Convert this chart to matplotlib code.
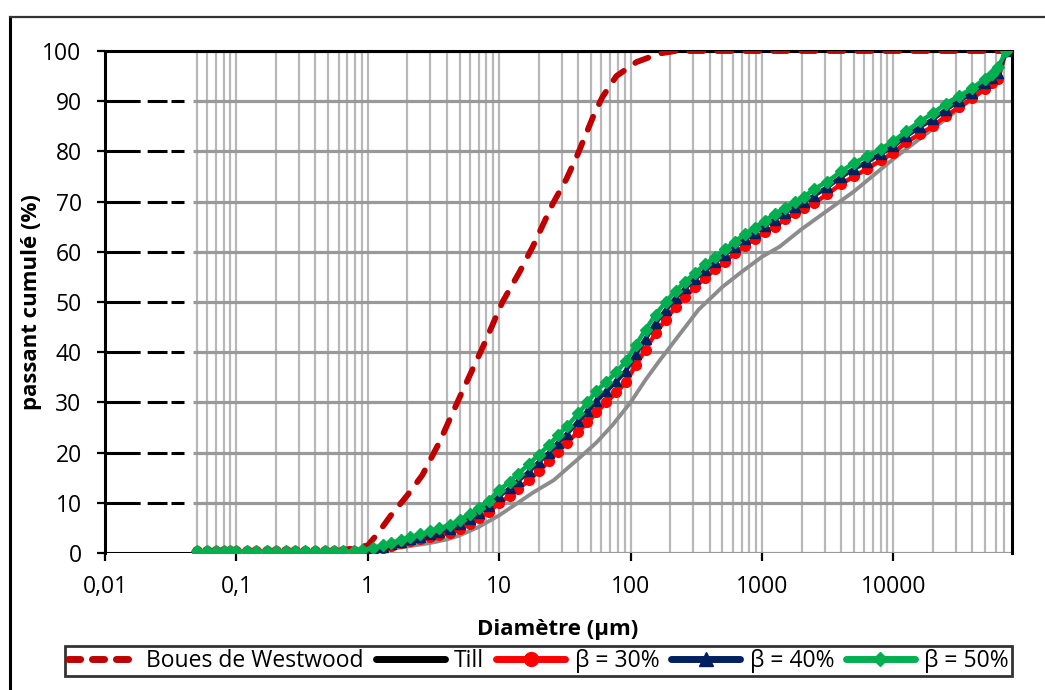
import matplotlib.pyplot as plt
from matplotlib.lines import Line2D
from matplotlib.ticker import FixedLocator, NullLocator

plt.rcParams['font.family'] = ['Open Sans', 'DejaVu Sans']

# diameters (µm) of the three mixtures
diam = [0.05, 0.06, 0.07, 0.08, 0.09, 0.1, 0.12, 0.14, 0.17, 0.2, 0.24, 0.28, 0.33,
        0.4, 0.47, 0.55, 0.65, 0.78, 0.9, 1.1, 1.3, 1.5, 1.8, 2.1, 2.5, 3.0, 3.5, 4.2,
        5.0, 6.0, 7.0, 8.3, 10, 12, 14, 17, 20, 24, 28, 33, 40, 47, 55, 65, 78, 92,
        110, 130, 155, 185, 220, 260, 310, 370, 440, 520, 620, 740, 880, 1050, 1250,
        1500, 1800, 2100, 2500, 3150, 4000, 5000, 6300, 8000, 10000, 12500, 16000,
        20000, 25000, 31500, 40000, 50000, 56000, 63000, 72000]

beta30 = [0.3, 0.3, 0.3, 0.3, 0.3, 0.3, 0.3, 0.3, 0.3, 0.3, 0.3, 0.3, 0.3,
          0.3, 0.3, 0.3, 0.3, 0.3, 0.4, 0.7, 1.0, 1.4, 1.9, 2.3, 2.7, 3.1, 3.5, 4.0,
          4.8, 5.8, 6.9, 8.2, 9.9, 11.4, 12.8, 14.6, 16.3, 18.3, 20.2, 22.0, 24.2, 26.0, 28.0, 30.0, 32.0, 34.0,
          37.5, 40.5, 43.8, 46.5, 49.0, 51.0, 53.0, 54.8, 56.5, 58.0, 59.7, 61.2, 62.6, 64.0, 65.0,
          66.5, 67.8, 68.8, 69.7, 71.5, 73.5, 75.0, 76.5, 78.2, 79.7, 81.8, 83.5,
          85.0, 87.0, 88.8, 90.6, 92.5, 93.6, 94.5, 100]

beta40 = [0.1, 0.1, 0.1, 0.1, 0.1, 0.1, 0.1, 0.1, 0.1, 0.1, 0.1, 0.1, 0.1,
          0.1, 0.1, 0.1, 0.1, 0.1, 0.3, 0.8, 1.2, 1.7, 2.2, 2.7, 3.2, 3.7, 4.2, 4.8,
          5.7, 6.8, 8.0, 9.4, 11.3, 12.9, 14.4, 16.3, 18.1, 20.0, 22.0, 23.8, 26.2, 28.2, 30.3, 32.2, 34.2, 36.3,
          39.7, 42.7, 45.8, 48.4, 50.8, 52.7, 54.6, 56.3, 57.9, 59.4, 61.0, 62.5, 63.8, 65.2, 66.4,
          67.8, 69.0, 70.0, 71.2, 72.9, 74.9, 76.5, 77.9, 79.5, 81.0, 83.0, 84.9,
          86.4, 88.3, 90.0, 91.7, 93.6, 94.6, 95.6, 100]

beta50 = [0.3, 0.3, 0.3, 0.3, 0.3, 0.3, 0.3, 0.3, 0.3, 0.3, 0.3, 0.3, 0.3,
          0.3, 0.3, 0.3, 0.3, 0.3, 0.6, 1.0, 1.5, 2.0, 2.6, 3.1, 3.7, 4.3, 4.9, 5.6,
          6.6, 7.8, 9.0, 10.4, 12.5, 14.2, 15.8, 17.8, 19.6, 21.5, 23.5, 25.3, 27.8, 30.0, 32.3, 34.0, 36.0, 38.2,
          41.5, 44.5, 47.5, 50.0, 52.2, 54.0, 55.8, 57.5, 59.0, 60.5, 62.0, 63.5, 64.8, 66.2, 67.5,
          68.8, 70.0, 71.0, 72.5, 74.0, 76.0, 77.7, 79.0, 80.5, 82.0, 84.0, 86.0,
          87.6, 89.5, 91.0, 92.6, 94.5, 95.5, 96.8, 100]

boues_diam = [0.05, 0.5, 1.0, 1.2, 1.5, 2.0, 2.6, 3.5, 5.0, 7.5, 10.6, 14.3, 18, 25.5,
              32.5, 39, 53, 61, 78, 111, 166, 220, 1000, 72000]
boues = [0, 0, 1.5, 4, 7.5, 11.5, 15.5, 22, 31, 41, 50, 56, 61, 69.5,
         74.5, 79, 87.5, 90.8, 95, 97.8, 99.5, 100, 100, 100]

till_diam = [0.05, 0.5, 1, 1.5, 2, 3, 4, 5, 7, 10, 13, 18, 26, 41, 55, 73, 100, 130,
             166, 220, 330, 500, 700, 1000, 1360, 2000, 5000, 10000, 20000, 40000, 60000, 72000]
till = [0, 0, 0.3, 0.8, 1.3, 2.0, 2.7, 3.5, 5.2, 7.5, 9.5, 12, 14.5, 19, 22, 25.5, 30, 34.5,
        38.3, 42.5, 48.5, 53, 56, 59, 61, 64.5, 72, 78.5, 84.5, 90.5, 94, 100]

x_labels = ['0,01', '0,1', '1', '10', '100', '1000', '10000']
x_ticks = [0.01, 0.1, 1, 10, 100, 1000, 10000]

fig = plt.figure(figsize=(10.45, 6.9), dpi=100)
ax = fig.add_axes([105 / 1045, 137 / 690, 907 / 1045, 502 / 690])
ax.set_xscale('log')
ax.set_xlim(0.01, 80000)
ax.set_ylim(0, 100)

# grid (Excel style: nothing left of 0.05, black dashes on the horizontals there)
vgrid = [m * 10.0 ** e for e in range(-2, 5) for m in range(1, 10)]
vgrid = [v for v in vgrid if 0.049 < v < 79000]
ax.vlines(vgrid, 0, 100, colors='#b8b8b8', lw=1.6, zorder=1)
ax.hlines(range(0, 101, 10), 0.047, 80000, colors='#999999', lw=2.3, zorder=1)
ax.hlines(range(10, 100, 10), 0.01, 0.04, colors='black', lw=2.2,
          linestyles=[(0, (11.5, 2.3, 6.5, 1.3, 4.3, 30))], zorder=1)
ax.hlines(0, 0.01, 0.05, colors='black', lw=2.2, zorder=2)

for s in ['left', 'top', 'right']:
    ax.spines[s].set_linewidth(2.2)
ax.spines['bottom'].set_visible(False)

ax.plot(boues_diam, boues, color='#c00000', lw=4.2, dashes=(2.4, 2.4),
        dash_capstyle='round', zorder=4)
ax.plot(till_diam, till, color='#8c8c8c', lw=2.8, zorder=4)
ax.plot(diam, beta30, color='#ff0000', lw=3.2, marker='o', ms=7, zorder=5)
ax.plot(diam, beta40, color='#002060', lw=3.2, marker='^', ms=7.5, zorder=6)
ax.plot(diam, beta50, color='#00b050', lw=3.2, marker='D', ms=6.5, zorder=7)

ax.xaxis.set_major_locator(FixedLocator(x_ticks))
ax.xaxis.set_minor_locator(NullLocator())
ax.set_xticklabels(x_labels)
ax.set_yticks(range(0, 101, 10))
ax.tick_params(axis='both', which='major', length=5.8, width=1.6, direction='out',
               labelsize=16.5)
ax.tick_params(axis='y', pad=11)
ax.tick_params(axis='x', pad=10)

fig.text(558 / 1045, 1 - 630 / 690, 'Diamètre (µm)', fontsize=16, fontweight='bold',
         ha='center', va='center')
fig.text(32 / 1045, 1 - 302 / 690, 'passant cumulé (%)', fontsize=16, fontweight='bold',
         ha='center', va='center', rotation=90)

handles = [
    Line2D([], [], color='#c00000', lw=5, dashes=(1.75, 1.7), dash_capstyle='round'),
    Line2D([], [], color='black', lw=5, solid_capstyle='round'),
    Line2D([], [], color='#ff0000', lw=5, marker='o', ms=10, solid_capstyle='round'),
    Line2D([], [], color='#002060', lw=5, marker='^', ms=10, solid_capstyle='round'),
    Line2D([], [], color='#00b050', lw=5, marker='D', ms=7, solid_capstyle='round'),
]
labels = ['Boues de Westwood', 'Till', 'β = 30%', 'β = 40%', 'β = 50%']
leg = fig.legend(handles, labels, loc='center', bbox_to_anchor=(538.5 / 1045, 1 - 661 / 690),
                 ncol=5, fontsize=16.5, frameon=True, fancybox=False, handlelength=3.0,
                 handletextpad=0.42, columnspacing=0.52, borderpad=0.15, numpoints=1,
                 borderaxespad=0)
leg.get_frame().set_edgecolor('black')
leg.get_frame().set_linewidth(2)

# outer frame of the chart
fig.add_artist(Line2D([10 / 1045, 10 / 1045], [0, 1 - 17 / 690], transform=fig.transFigure,
                      color='black', lw=2.2))
fig.add_artist(Line2D([10 / 1045, 1], [1 - 17 / 690, 1 - 17 / 690], transform=fig.transFigure,
                      color='#333333', lw=1.6))

fig.savefig('out.png', dpi=100)
